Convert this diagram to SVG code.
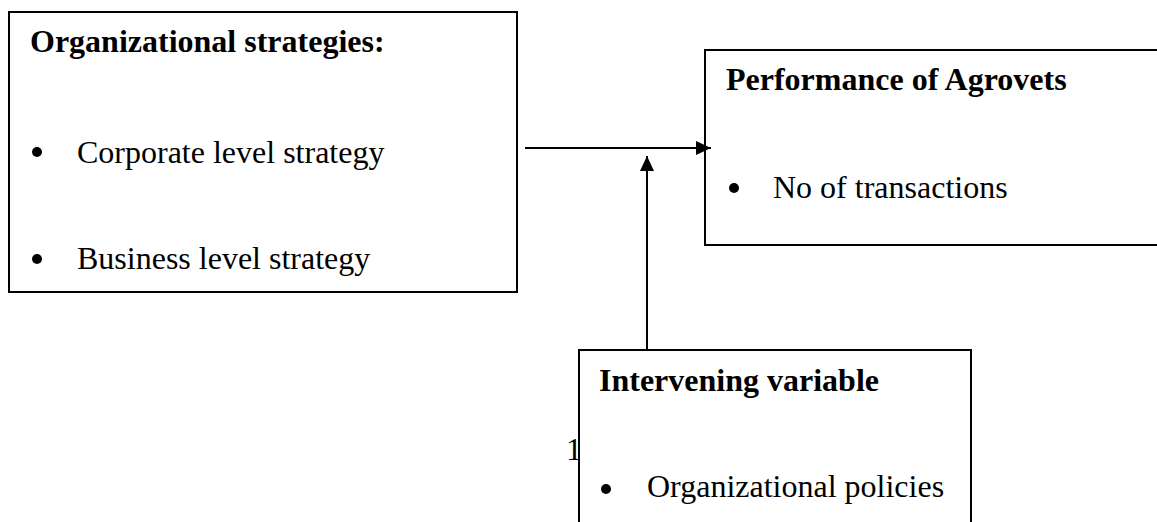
<svg xmlns="http://www.w3.org/2000/svg" width="1157" height="522" viewBox="0 0 1157 522">
<defs>
<marker id="ah" markerWidth="15" markerHeight="14" refX="15" refY="7" orient="auto" markerUnits="userSpaceOnUse">
<path d="M0,0 L15,7 L0,14 Z" fill="#000"/>
</marker>
<style>
.box{fill:#fff;stroke:#000;stroke-width:2}
.t{font-family:"Liberation Serif","Times New Roman",serif;font-size:32px;fill:#000}
.b{font-weight:bold}
.c{stroke:#000;stroke-width:2;fill:none}
</style>
</defs>
<rect width="1157" height="522" fill="#fff"/>
<text class="t" x="566" y="460">1</text>
<g id="node-strategies">
<rect class="box" x="9" y="12" width="508" height="280"/>
<text class="t b" x="30" y="52">Organizational strategies:</text>
<circle cx="37" cy="152" r="5"/>
<text class="t" x="77" y="163">Corporate level strategy</text>
<circle cx="37" cy="259" r="5"/>
<text class="t" x="77" y="269">Business level strategy</text>
</g>
<g id="node-performance">
<rect class="box" x="705" y="50" width="470" height="195"/>
<text class="t b" x="726" y="90">Performance of Agrovets</text>
<circle cx="734" cy="188" r="5"/>
<text class="t" x="773" y="198">No of transactions</text>
</g>
<g id="node-intervening">
<rect class="box" x="579" y="350" width="392" height="190"/>
<text class="t b" x="599" y="391">Intervening variable</text>
<circle cx="606" cy="489" r="5"/>
<text class="t" x="647" y="497">Organizational policies</text>
</g>
<g id="connectors">
<line class="c" x1="525" y1="148" x2="711" y2="148" marker-end="url(#ah)"/>
<line class="c" x1="647" y1="350" x2="647" y2="156" marker-end="url(#ah)"/>
</g>
</svg>
